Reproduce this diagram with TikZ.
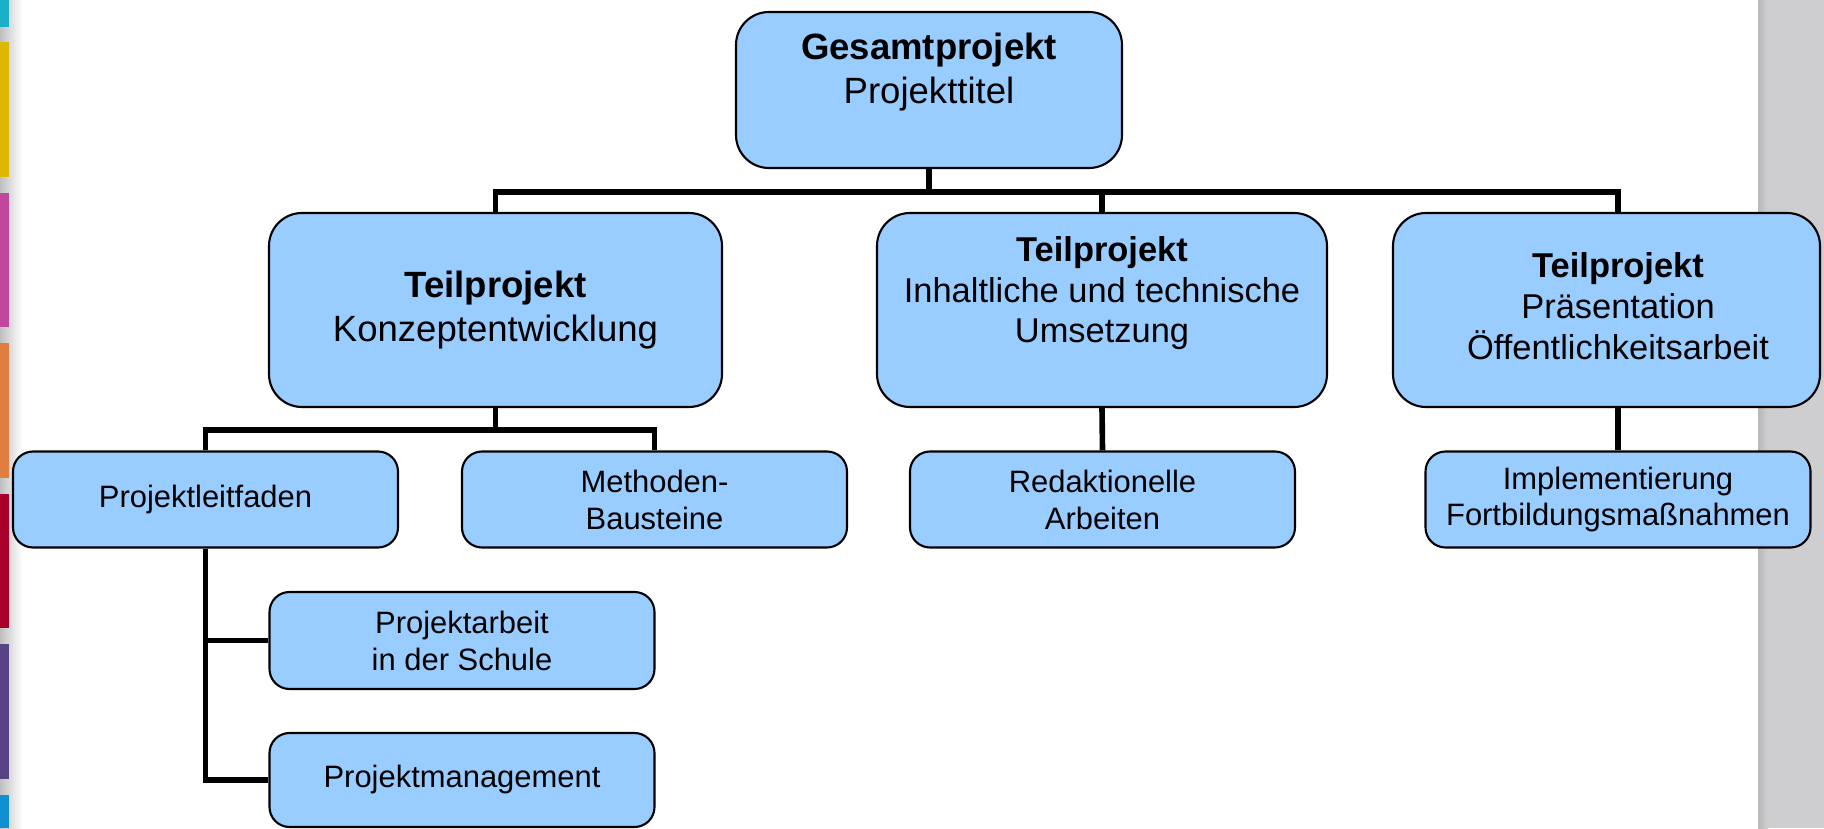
\documentclass[tikz,border=0pt]{standalone}
\usepackage{fontspec}
\setmainfont{Liberation Sans}
\definecolor{boxblue}{RGB}{153,204,255}
\definecolor{sidegray}{RGB}{206,206,209}
\definecolor{stripA}{RGB}{26,176,200}
\definecolor{stripB}{RGB}{222,184,0}
\definecolor{stripC}{RGB}{192,72,156}
\definecolor{stripD}{RGB}{224,126,64}
\definecolor{stripE}{RGB}{168,0,42}
\definecolor{stripF}{RGB}{88,68,132}
\definecolor{stripG}{RGB}{16,144,208}
\newcommand{\bigtxt}  {\fontsize{10.4}{12.4}\selectfont}
\newcommand{\midtxt}  {\fontsize{9.8}{11.6}\selectfont}
\newcommand{\leaftxt} {\fontsize{8.8}{10.5}\selectfont}

\tikzset{
  box/.style={draw=black,line width=0.6pt,fill=boxblue,rounded corners=3.3mm,
              align=center,inner sep=0pt,minimum height=1.94cm},
  leaf/.style={box,rounded corners=2mm,minimum width=3.85cm,minimum height=0.96cm,font=\leaftxt},
  link/.style={line width=1.6pt}
}

\begin{document}
\begin{tikzpicture}
   \useasboundingbox (0,0) rectangle (18.24,8.28);
   % page edges
   \shade[left color=gray!50,right color=white] (0,0) rectangle (0.22,8.28);
   \foreach \c/\a/\b in {stripA/8.01/8.28, stripB/6.51/7.86, stripC/5.01/6.35,
                         stripD/3.50/4.85, stripE/2.00/3.34, stripF/0.49/1.84, stripG/0/0.33}
      \fill[\c] (0,\a) rectangle (0.085,\b);
   \fill[sidegray] (17.58,0) rectangle (18.24,8.28);
   \shade[left color=gray!55,right color=sidegray] (17.58,0) rectangle (17.68,8.28);

   % boxes
   \node[box,minimum width=3.86cm,minimum height=1.56cm,font=\bigtxt] (gesamt) at (9.29,7.38)
        {\textbf{Gesamtprojekt}\\Projekttitel\\\mbox{}};
   \node[box,minimum width=4.53cm,font=\bigtxt] (konzept) at (4.955,5.18)
        {\textbf{Teilprojekt}\\Konzeptentwicklung};
   \node[box,minimum width=4.50cm,font=\midtxt] (umsetzung) at (11.02,5.18)
        {\textbf{Teilprojekt}\\Inhaltliche und technische\\Umsetzung\\\mbox{}};
   \node[box,minimum width=4.27cm,font=\midtxt] (praes) at (16.065,5.18)
        {\hspace*{2.3mm}\begin{tabular}{@{}c@{}}\textbf{Teilprojekt}\\Präsentation\\Öffentlichkeitsarbeit\end{tabular}};

   \node[leaf] (leitfaden) at (2.055,3.285) {Projektleitfaden};
   \node[leaf] (methoden) at (6.545,3.285) {Methoden-\\Bausteine};
   \node[leaf] (redaktion) at (11.025,3.285) {Redaktionelle\\Arbeiten};
   \node[leaf] (implement) at (16.18,3.285) {Implementierung\\Fortbildungsmaßnahmen};
   \node[leaf,minimum height=0.97cm] (schule) at (4.62,1.875) {Projektarbeit\\in der Schule};
   \node[leaf,minimum height=0.94cm] (management) at (4.62,0.48) {Projektmanagement};

   % connectors
   \draw[link] (gesamt.south) -- ++(0,-0.23) coordinate (bus);
   \draw[link] (konzept.north) |- (bus -| implement.north) -- (implement.north |- praes.north);
   \draw[link] (umsetzung.north) -- (umsetzung.north |- bus);
   \draw[link] (umsetzung.south) -- (redaktion.north);
   \draw[link] (implement.north) -- (implement.north |- praes.south);
   \draw[link] (konzept.south) -- ++(0,-0.22) coordinate (bus2);
   \draw[link] (leitfaden.north) |- (bus2) -| (methoden.north);
   \draw[link] (leitfaden.south) |- (management.west);
   \draw[link] (schule.west) -- (schule.west -| leitfaden.south);
\end{tikzpicture}
\end{document}
